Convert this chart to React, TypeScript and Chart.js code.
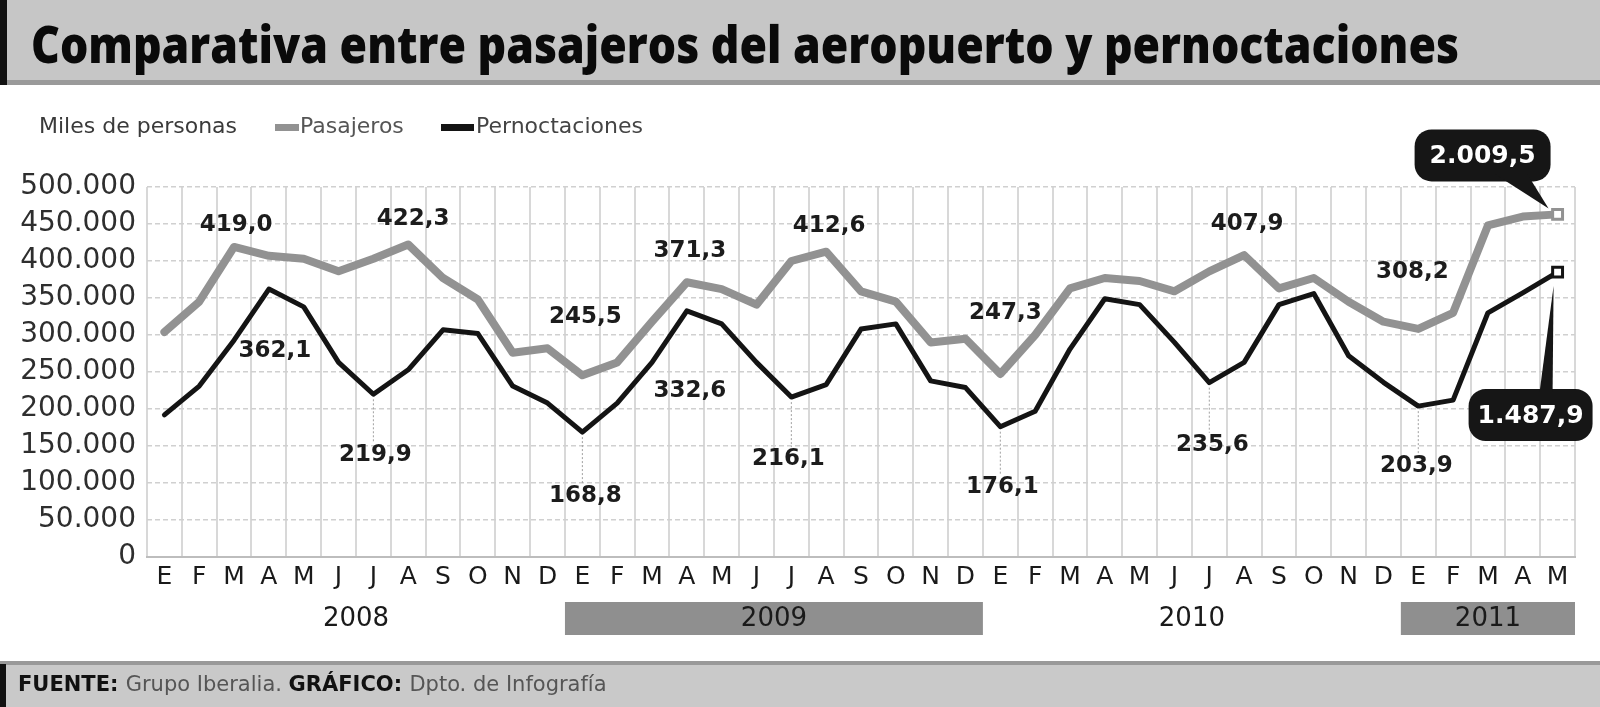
import { useEffect, useRef } from "react";
import { Chart, registerables } from "chart.js";

Chart.register(...registerables);

// meses enero 2008 - mayo 2011
const meses = [
  "E", "F", "M", "A", "M", "J", "J", "A", "S", "O", "N", "D",
  "E", "F", "M", "A", "M", "J", "J", "A", "S", "O", "N", "D",
  "E", "F", "M", "A", "M", "J", "J", "A", "S", "O", "N", "D",
  "E", "F", "M", "A", "M",
];

// miles de personas
const pasajeros = [
  304, 345, 419.0, 407, 403, 386, 403, 422.3, 377, 348, 276, 282,
  245.5, 263, 318, 371.3, 362, 341, 400, 412.6, 359, 345, 290, 295,
  247.3, 300, 363, 377, 373, 359, 386, 407.9, 363, 377, 345, 318,
  308.2, 330, 448, 460, 463,
];
const pernoctaciones = [
  192, 231, 293, 362.1, 338, 263, 219.9, 253, 307, 302, 231, 208,
  168.8, 208, 263, 332.6, 315, 263, 216.1, 233, 308, 315, 238, 229,
  176.1, 197, 281, 349, 341, 290, 235.6, 263, 341, 356, 272, 236,
  203.9, 212, 330, 357, 385,
];

const anios = ["2008", "2009", "2010", "2011"];
const aniosInicio = [0, 12, 24, 36];
const aniosFin = [11, 23, 35, 40];

// puntos con la cifra escrita
const etiquetasPasajeros = [2, 7, 12, 15, 19, 24, 31, 36];
const etiquetasPernoctaciones = [3, 6, 12, 15, 18, 24, 30, 36];
// acumulado enero-mayo 2011
const totalPasajeros2011 = 2009.5;
const totalPernoctaciones2011 = 1487.9;

const GRIS = "#929292";
const NEGRO = "#141414";
const FUENTE = '"DejaVu Sans", sans-serif';

const coma = (v: number) => v.toFixed(1).replace(".", ",");
const puntos = (s: string) => s.replace(/\B(?=(\d{3})+(?!\d))/g, ".");
const total = (v: number) => {
  const [ent, dec] = v.toFixed(1).split(".");
  return puntos(ent) + "," + dec;
};

// desplazamientos de las cifras respecto a su punto
const offPas = [
  [2, -22], [5, -25], [3, -58], [3, -31], [3, -26], [5, -61], [3, -31], [-6, -57],
];
const offPer = [
  [6, 62], [2, 61], [3, 64], [3, 80], [-3, 62], [2, 60], [3, 62], [-2, 60],
];
const guiaPer = [false, true, true, false, true, true, true, true];

const decoracion = {
  id: "decoracion",
  beforeDraw(chart: any) {
    const { ctx, width, height } = chart;
    const x = chart.scales.x;
    ctx.save();
    ctx.fillStyle = "#fff";
    ctx.fillRect(0, 0, width, height);

    // cabecera
    ctx.fillStyle = "#c6c6c6";
    ctx.fillRect(0, 0, width, 81);
    ctx.fillStyle = "#9a9a9a";
    ctx.fillRect(0, 80, width, 5);
    ctx.fillStyle = "#111";
    ctx.fillRect(0, 0, 7, 85);
    const titulo = "Comparativa entre pasajeros del aeropuerto y pernoctaciones";
    ctx.font = '800 52px "Open Sans", sans-serif';
    const w = ctx.measureText(titulo).width;
    ctx.save();
    ctx.translate(31, 63);
    ctx.scale(1428 / w, 1);
    ctx.fillStyle = "#0a0a0a";
    ctx.textBaseline = "alphabetic";
    ctx.fillText(titulo, 0, 0);
    ctx.restore();

    // leyenda
    ctx.font = `22px ${FUENTE}`;
    ctx.textBaseline = "middle";
    ctx.fillStyle = "#3a3a3a";
    ctx.fillText("Miles de personas", 39, 127);
    ctx.fillStyle = GRIS;
    ctx.fillRect(275, 124, 24, 7);
    ctx.fillStyle = "#555";
    ctx.fillText("Pasajeros", 300, 127);
    ctx.fillStyle = NEGRO;
    ctx.fillRect(441, 124, 33, 7);
    ctx.fillStyle = "#444";
    ctx.fillText("Pernoctaciones", 476, 127);

    // años
    const paso = x.getPixelForValue(1) - x.getPixelForValue(0);
    ctx.font = `26px ${FUENTE}`;
    ctx.textAlign = "center";
    anios.forEach((a, i) => {
      const x0 = x.getPixelForValue(aniosInicio[i]) - paso / 2;
      const x1 = x.getPixelForValue(aniosFin[i]) + paso / 2;
      if (i % 2 === 1) {
        ctx.fillStyle = "#8f8f8f";
        ctx.fillRect(x0, 602, x1 - x0, 33);
      }
      ctx.fillStyle = "#1a1a1a";
      ctx.fillText(a, (x0 + x1) / 2, 619);
    });

    // pie
    ctx.fillStyle = "#c9c9c9";
    ctx.fillRect(0, 664, width, height - 664);
    ctx.fillStyle = "#999";
    ctx.fillRect(0, 661, width, 4);
    ctx.fillStyle = "#111";
    ctx.fillRect(0, 664, 6, height - 664);
    ctx.textAlign = "left";
    let px = 18;
    const partes: [string, boolean][] = [
      ["FUENTE: ", true],
      ["Grupo Iberalia. ", false],
      ["GRÁFICO: ", true],
      ["Dpto. de Infografía", false],
    ];
    partes.forEach(([t, b]) => {
      ctx.font = `${b ? "bold " : ""}21px ${FUENTE}`;
      ctx.fillStyle = b ? "#111" : "#555";
      ctx.fillText(t, px, 686);
      px += ctx.measureText(t).width;
    });
    ctx.restore();
  },
  afterDatasetsDraw(chart: any) {
    const { ctx } = chart;
    const mPas = chart.getDatasetMeta(0).data;
    const mPer = chart.getDatasetMeta(1).data;
    ctx.save();
    ctx.font = `bold 23px ${FUENTE}`;
    ctx.textAlign = "center";
    ctx.textBaseline = "middle";

    etiquetasPasajeros.forEach((idx, i) => {
      const p = mPas[idx];
      ctx.fillStyle = "#1c1c1c";
      ctx.fillText(coma(pasajeros[idx]), p.x + offPas[i][0], p.y + offPas[i][1]);
    });
    etiquetasPernoctaciones.forEach((idx, i) => {
      const p = mPer[idx];
      const ty = p.y + offPer[i][1];
      if (guiaPer[i]) {
        ctx.strokeStyle = "#a0a0a0";
        ctx.lineWidth = 1;
        ctx.setLineDash([2, 2]);
        ctx.beginPath();
        ctx.moveTo(p.x, p.y + 5);
        ctx.lineTo(p.x, ty - 12);
        ctx.stroke();
        ctx.setLineDash([]);
      }
      ctx.fillStyle = "#1c1c1c";
      ctx.fillText(coma(pernoctaciones[idx]), p.x + offPer[i][0], ty);
    });

    // globos con el acumulado
    const globo = (texto: string, cx: number, cy: number, extra: number, pico: number[][]) => {
      ctx.font = `bold 25px ${FUENTE}`;
      const w = ctx.measureText(texto).width + extra;
      const h = 52;
      ctx.fillStyle = "#161616";
      ctx.beginPath();
      ctx.roundRect(cx - w / 2, cy - h / 2, w, h, 17);
      ctx.fill();
      ctx.beginPath();
      ctx.moveTo(pico[0][0], pico[0][1]);
      ctx.lineTo(pico[1][0], pico[1][1]);
      ctx.lineTo(pico[2][0], pico[2][1]);
      ctx.closePath();
      ctx.fill();
      ctx.fillStyle = "#fff";
      ctx.fillText(texto, cx, cy + 1);
    };
    const ultimo = meses.length - 1;
    const gp = mPas[ultimo];
    const np = mPer[ultimo];
    globo(total(totalPasajeros2011), gp.x - 75, gp.y - 59, 30, [
      [gp.x - 62, gp.y - 40],
      [gp.x - 30, gp.y - 40],
      [gp.x - 9, gp.y - 6],
    ]);
    globo(total(totalPernoctaciones2011), np.x - 27, np.y + 143, 18, [
      [np.x - 18, np.y + 120],
      [np.x - 5, np.y + 120],
      [np.x - 4, np.y + 14],
    ]);
    ctx.restore();
  },
};

const App = () => {
  const canvasRef = useRef<HTMLCanvasElement>(null);

  useEffect(() => {
    if (!canvasRef.current) return;
    const ultimo = meses.length - 1;
    const chart = new Chart(canvasRef.current, {
      type: "line",
      data: {
        labels: meses,
        datasets: [
          {
            label: "Pasajeros",
            data: pasajeros,
            borderColor: GRIS,
            borderWidth: 8,
            borderJoinStyle: "round",
            borderCapStyle: "round",
            tension: 0,
            order: 1,
            pointStyle: "rect",
            pointRadius: (c: any) => (c.dataIndex === ultimo ? 7 : 0),
            pointBackgroundColor: "#fff",
            pointBorderColor: GRIS,
            pointBorderWidth: 3,
          },
          {
            label: "Pernoctaciones",
            data: pernoctaciones,
            borderColor: NEGRO,
            borderWidth: 5,
            borderJoinStyle: "round",
            borderCapStyle: "round",
            tension: 0,
            order: 0,
            pointStyle: "rect",
            pointRadius: (c: any) => (c.dataIndex === ultimo ? 7 : 0),
            pointBackgroundColor: "#fff",
            pointBorderColor: NEGRO,
            pointBorderWidth: 3,
          },
        ],
      },
      options: {
        responsive: false,
        devicePixelRatio: 1,
        animation: false,
        layout: { padding: { top: 187, right: 25, left: 0, bottom: 0 } },
        plugins: {
          legend: { display: false },
          tooltip: { enabled: false },
        },
        scales: {
          x: {
            offset: true,
            grid: { color: "#d8d8d8", lineWidth: 2, offset: true, drawTicks: false },
            border: { display: true, color: "#bdbdbd", width: 2 },
            ticks: {
              autoSkip: false,
              maxRotation: 0,
              padding: 5,
              color: "#1a1a1a",
              font: { family: FUENTE, size: 25 },
            },
            afterFit: (s: any) => {
              s.height = 150;
            },
          },
          y: {
            min: 0,
            max: 500,
            ticks: {
              stepSize: 50,
              padding: 11,
              color: "#2e2e2e",
              font: { family: FUENTE, size: 28 },
              callback: (v: any) => puntos(String(Math.round(Number(v) * 1000))),
            },
            grid: { color: "#d0d0d0", lineWidth: 1.5, drawTicks: false },
            border: { display: false, dash: [5, 3] },
            afterFit: (s: any) => {
              s.width = 147;
            },
          },
        },
      },
      plugins: [decoracion],
    });
    return () => {
      chart.destroy();
    };
  }, []);

  return (
    <div style={{ position: "absolute", left: 0, top: 0, width: 1600, height: 707 }}>
      <canvas ref={canvasRef} width={1600} height={707} style={{ width: 1600, height: 707 }}></canvas>
    </div>
  );
};

export default App;
